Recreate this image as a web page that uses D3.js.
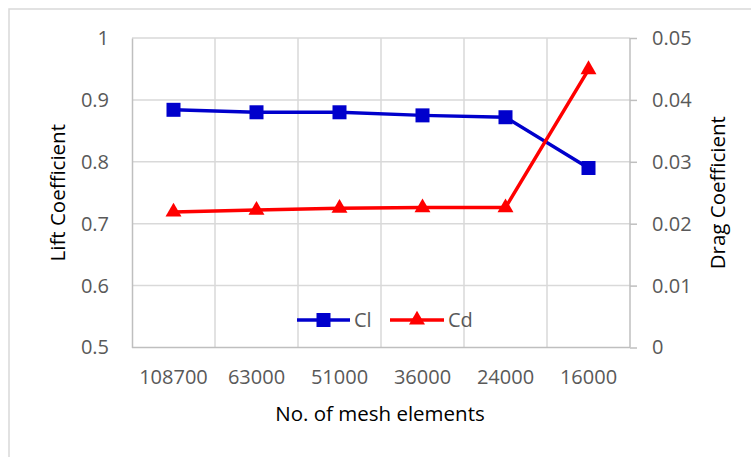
<!DOCTYPE html>
<html>
<head>
<meta charset="utf-8">
<script src="https://cdn.jsdelivr.net/npm/d3@7"></script>
<style>
  html, body { margin: 0; padding: 0; background: #fff; }
  svg { display: block; }
  text { font-family: "Open Sans", "Noto Sans", sans-serif; }
</style>
</head>
<body>
<svg id="chart" width="751" height="457"></svg>
<script>
// Mesh sizes (x categories) and the two coefficient series
const categories = ["108700", "63000", "51000", "36000", "24000", "16000"];
const liftValues = [0.884, 0.880, 0.880, 0.875, 0.872, 0.790];
const dragValues = [0.0219, 0.0222, 0.0225, 0.0226, 0.0226, 0.0449];
const liftTicks = [0.5, 0.6, 0.7, 0.8, 0.9, 1];
const dragTicks = [0, 0.01, 0.02, 0.03, 0.04, 0.05];

const svg = d3.select("#chart");
const W = 751, H = 457;
const plot = { left: 132, right: 630, top: 38, bottom: 347.5 };

const gridColor = "#d9d9d9";
const axisColor = "#bfbfbf";
const tickColor = "#595959";
const blue = "#0000cc";
const red = "#ff0000";

// Chart frame
svg.append("rect")
  .attr("x", 9).attr("y", 9)
  .attr("width", W + 20).attr("height", H + 20)
  .attr("fill", "#fff")
  .attr("stroke", gridColor).attr("stroke-width", 1.5);

const x = d3.scaleBand().domain(categories).range([plot.left, plot.right]);
const yL = d3.scaleLinear().domain([0.5, 1]).range([plot.bottom, plot.top]);
const yR = d3.scaleLinear().domain([0, 0.05]).range([plot.bottom, plot.top]);
const cx = d => x(d) + x.bandwidth() / 2;

// Horizontal gridlines
svg.append("g").selectAll("line").data(liftTicks.slice(1)).join("line")
  .attr("x1", plot.left).attr("x2", plot.right)
  .attr("y1", d => yL(d)).attr("y2", d => yL(d))
  .attr("stroke", gridColor).attr("stroke-width", 1.5);

// Vertical gridlines at category boundaries
svg.append("g").selectAll("line").data(categories.slice(1)).join("line")
  .attr("x1", d => x(d)).attr("x2", d => x(d))
  .attr("y1", plot.top).attr("y2", plot.bottom)
  .attr("stroke", gridColor).attr("stroke-width", 1.5);

// Left axis
const leftAxis = svg.append("g")
  .attr("transform", `translate(${plot.left},0)`)
  .call(d3.axisLeft(yL).tickValues(liftTicks).tickSize(0).tickPadding(23)
    .tickFormat(d => d3.format("")(d)));
leftAxis.select(".domain").attr("stroke", axisColor).attr("stroke-width", 1.5);
leftAxis.selectAll("text").attr("fill", tickColor).style("font-size", "20px")
  .style("font-family", "'Open Sans', sans-serif");

// Right axis
const rightAxis = svg.append("g")
  .attr("transform", `translate(${plot.right},0)`)
  .call(d3.axisRight(yR).tickValues(dragTicks).tickSize(7).tickPadding(15)
    .tickFormat(d => d === 0 ? "0" : d3.format(".2f")(d)));
rightAxis.select(".domain").attr("stroke", axisColor).attr("stroke-width", 1.5)
  .attr("d", `M0,${plot.bottom}V${plot.top}`);
rightAxis.selectAll(".tick line").attr("stroke", axisColor).attr("stroke-width", 1.5);
rightAxis.selectAll("text").attr("fill", tickColor).style("font-size", "20px")
  .style("font-family", "'Open Sans', sans-serif");

// Bottom axis
const bottomAxis = svg.append("g")
  .attr("transform", `translate(0,${plot.bottom})`)
  .call(d3.axisBottom(x).tickSize(0).tickPadding(22));
bottomAxis.select(".domain").attr("stroke", axisColor).attr("stroke-width", 1.5)
  .attr("d", `M${plot.left},0H${plot.right}`);
bottomAxis.selectAll("text").attr("fill", tickColor).style("font-size", "20px")
  .style("font-family", "'Open Sans', sans-serif");

// Axis titles
const titleSize = "20.5px";
svg.append("text")
  .attr("transform", `translate(58,${(plot.top + plot.bottom) / 2}) rotate(-90)`)
  .attr("text-anchor", "middle").attr("dy", "0.35em")
  .style("font-size", titleSize).attr("fill", "#000")
  .text("Lift Coefficient");
svg.append("text")
  .attr("transform", `translate(718,${(plot.top + plot.bottom) / 2}) rotate(-90)`)
  .attr("text-anchor", "middle").attr("dy", "0.35em")
  .style("font-size", titleSize).attr("fill", "#000")
  .text("Drag Coefficient");
svg.append("text")
  .attr("x", 380).attr("y", 414)
  .attr("text-anchor", "middle").attr("dy", "0.35em")
  .style("font-size", titleSize).attr("fill", "#000")
  .text("No. of mesh elements");

// Series
const lift = categories.map((c, i) => ({ c, v: liftValues[i] }));
const drag = categories.map((c, i) => ({ c, v: dragValues[i] }));
const sq = 14, tri = d3.symbol().type(d3.symbolTriangle).size(110);

svg.append("path").datum(lift)
  .attr("d", d3.line().x(d => cx(d.c)).y(d => yL(d.v)))
  .attr("fill", "none").attr("stroke", blue).attr("stroke-width", 3.5);
svg.append("g").selectAll("rect").data(lift).join("rect")
  .attr("x", d => cx(d.c) - sq / 2).attr("y", d => yL(d.v) - sq / 2)
  .attr("width", sq).attr("height", sq).attr("fill", blue);

svg.append("path").datum(drag)
  .attr("d", d3.line().x(d => cx(d.c)).y(d => yR(d.v)))
  .attr("fill", "none").attr("stroke", red).attr("stroke-width", 3.5);
svg.append("g").selectAll("path").data(drag).join("path")
  .attr("transform", d => `translate(${cx(d.c)},${yR(d.v)})`)
  .attr("d", tri).attr("fill", red);

// Legend
const legend = svg.append("g").attr("transform", "translate(0,320)");
legend.append("line").attr("x1", 297).attr("x2", 350).attr("y1", 0).attr("y2", 0)
  .attr("stroke", blue).attr("stroke-width", 3.5);
legend.append("rect").attr("x", 323.5 - sq / 2).attr("y", -sq / 2)
  .attr("width", sq).attr("height", sq).attr("fill", blue);
legend.append("text").attr("x", 354).attr("y", 0).attr("dy", "0.35em")
  .style("font-size", "20px").attr("fill", tickColor).text("Cl");
legend.append("line").attr("x1", 390).attr("x2", 444).attr("y1", 0).attr("y2", 0)
  .attr("stroke", red).attr("stroke-width", 3.5);
legend.append("path").attr("transform", "translate(417,0)").attr("d", tri).attr("fill", red);
legend.append("text").attr("x", 448).attr("y", 0).attr("dy", "0.35em")
  .style("font-size", "20px").attr("fill", tickColor).text("Cd");
</script>
</body>
</html>
